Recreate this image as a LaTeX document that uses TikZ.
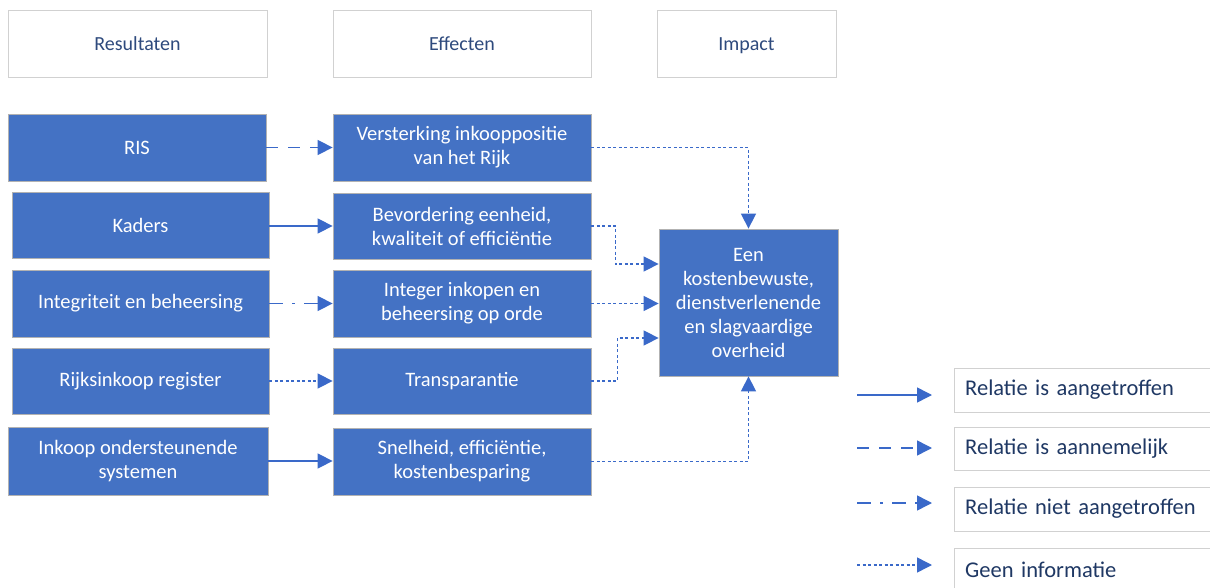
\documentclass[tikz,border=0pt]{standalone}
\usepackage{fontspec}
\setmainfont{Carlito}
\usetikzlibrary{arrows.meta}
\definecolor{boxblue}{HTML}{4472C4}
\definecolor{linkblue}{HTML}{3A69C9}
\definecolor{headtext}{HTML}{2E4A7D}
\definecolor{legtext}{HTML}{1F3864}
\begin{document}
\begin{tikzpicture}[x=1pt,y=-1pt,
  head/.style={draw=black!18,fill=white,text=headtext,minimum height=67pt,text height=15pt,text depth=0pt,font=\fontsize{20}{24}\selectfont},
  blok/.style={draw=black!30,line width=0.8pt,fill=boxblue,text=white,align=center,minimum height=67pt,minimum width=258pt,font=\fontsize{20.5}{24}\selectfont},
  legbox/.style={draw=black!18,fill=white,text=legtext,anchor=west,minimum height=44pt,minimum width=280pt,text width=258pt,inner xsep=11pt,align=left,font=\fontsize{22.5}{26}\selectfont},
  link/.style={draw=linkblue,line width=1.5pt,-{Triangle[length=15pt,width=15pt]}},
  gevonden/.style={link},
  aannemelijk/.style={link,dash pattern=on 12pt off 10pt},
  nietgevonden/.style={link,dash pattern=on 14pt off 9pt on 3pt off 9pt},
  geeninfo/.style={link,dash pattern=on 3pt off 2.5pt}]
\clip (0,0) rectangle (1210,588);
\fill[white] (0,0) rectangle (1210,588);

\node[head,minimum width=259pt] (hres) at (137.5,43.5) {Resultaten};
\node[head,minimum width=258pt] (heff) at (462,43.5) {Effecten};
\node[head,minimum width=179pt] (himp) at (746.5,43.5) {Impact};

\node[blok] (ris) at (137,147.5) {RIS};
\node[blok,minimum width=257pt,minimum height=66pt] (kaders) at (140.5,225) {Kaders};
\node[blok,minimum width=257pt] (integ) at (140.5,303.5) {Integriteit en beheersing};
\node[blok,minimum width=257pt,minimum height=66pt] (rijks) at (140.5,381) {Rijksinkoop register};
\node[blok,minimum width=260pt,minimum height=68pt] (inkoop) at (138,461) {Inkoop ondersteunende\\systemen};

\node[blok] (verst) at (462,147.5) {Versterking inkooppositie\\van het Rijk};
\node[blok,minimum height=66pt] (bevord) at (462,226) {Bevordering eenheid,\\kwaliteit of efficiëntie};
\node[blok] (integer) at (462,303.5) {Integer inkopen en\\beheersing op orde};
\node[blok,minimum height=66pt] (transp) at (462,381) {Transparantie};
\node[blok] (snel) at (462,461.5) {Snelheid, efficiëntie,\\kostenbesparing};

\node[blok,minimum width=179pt,minimum height=147pt] (impact) at (748.5,302.5) {Een\\kostenbewuste,\\dienstverlenende\\en slagvaardige\\overheid};

\draw[aannemelijk] (ris) -- (verst);
\draw[gevonden] (kaders.east |- bevord.west) -- (bevord.west);
\draw[nietgevonden] (integ) -- (integer);
\draw[geeninfo] (rijks) -- (transp);
\draw[gevonden] (inkoop.east) -- (inkoop.east -| snel.west);

\draw[geeninfo] (verst.east) -| (impact.north);
\draw[geeninfo] (bevord.east) -- ++(24,0) |- ([yshift=38.5pt]impact.west);
\draw[geeninfo] (integer.east) -- (integer.east -| impact.west);
\draw[geeninfo] (transp.east) -- ++(26,0) |- ([yshift=-35.5pt]impact.west);
\draw[geeninfo] (snel.east) -| (impact.south);

\node[legbox] (leg1) at (954,390) {Relatie is aangetroffen};
\node[legbox,minimum height=43pt] (leg2) at (954,448.5) {Relatie is aannemelijk};
\node[legbox] (leg3) at (954,509) {Relatie niet aangetroffen};
\node[legbox] (leg4) at (954,570) {Geen informatie};

\coordinate (a1) at (857,395);
\coordinate (b1) at (932,395);
\coordinate (a2) at (857,448);
\coordinate (b2) at (932,448);
\coordinate (a3) at (857,503);
\coordinate (b3) at (932,503);
\coordinate (a4) at (857,565);
\coordinate (b4) at (932,565);
\draw[gevonden] (a1) -- (b1);
\draw[aannemelijk] (a2) -- (b2);
\draw[nietgevonden] (a3) -- (b3);
\draw[geeninfo] (a4) -- (b4);
\end{tikzpicture}
\end{document}
